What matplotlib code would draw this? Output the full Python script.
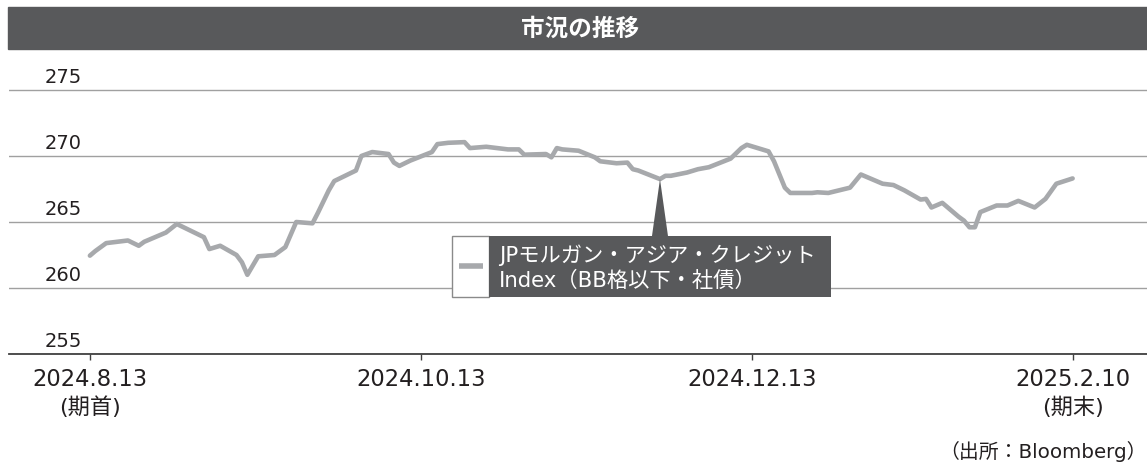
import matplotlib
matplotlib.use('Agg')
import matplotlib.pyplot as plt
import matplotlib.dates as mdates
from matplotlib.patches import Rectangle, Polygon
import numpy as np
import pandas as pd

plt.rcParams['font.family'] = ['Noto Sans CJK JP', 'DejaVu Sans']
MIX = ['DejaVu Sans', 'Noto Sans CJK JP']

# 読み取った値
dates = [
    '2024-08-13', '2024-08-14', '2024-08-16', '2024-08-20', '2024-08-22', '2024-08-23',
    '2024-08-27', '2024-08-29', '2024-09-03', '2024-09-04', '2024-09-06', '2024-09-09',
    '2024-09-10', '2024-09-11', '2024-09-13', '2024-09-16', '2024-09-18', '2024-09-20',
    '2024-09-23', '2024-09-24', '2024-09-26', '2024-09-27', '2024-10-01', '2024-10-02',
    '2024-10-04', '2024-10-07', '2024-10-08', '2024-10-09', '2024-10-11', '2024-10-15',
    '2024-10-16', '2024-10-18', '2024-10-21', '2024-10-22', '2024-10-25', '2024-10-29',
    '2024-10-31', '2024-11-01', '2024-11-05', '2024-11-06', '2024-11-07', '2024-11-08',
    '2024-11-11', '2024-11-14', '2024-11-15', '2024-11-18', '2024-11-20', '2024-11-21',
    '2024-11-22', '2024-11-26', '2024-11-27', '2024-11-28', '2024-12-01', '2024-12-03',
    '2024-12-05', '2024-12-09', '2024-12-11', '2024-12-12', '2024-12-16', '2024-12-17',
    '2024-12-19', '2024-12-20', '2024-12-24', '2024-12-25', '2024-12-27', '2024-12-29',
    '2024-12-31', '2025-01-02', '2025-01-04', '2025-01-06', '2025-01-08', '2025-01-10',
    '2025-01-13', '2025-01-14', '2025-01-15', '2025-01-17', '2025-01-20', '2025-01-21',
    '2025-01-22', '2025-01-23', '2025-01-24', '2025-01-27', '2025-01-29', '2025-01-31',
    '2025-02-03', '2025-02-05', '2025-02-07', '2025-02-10',
]
values = [
    262.45, 262.8, 263.4, 263.6, 263.2, 263.5,
    264.2, 264.85, 263.85, 262.95, 263.2, 262.5,
    261.95, 261.0, 262.4, 262.5, 263.1, 265.0,
    264.9, 265.7, 267.4, 268.1, 268.9, 270.0,
    270.3, 270.15, 269.5, 269.25, 269.65, 270.3,
    270.9, 271.0, 271.05, 270.6, 270.7, 270.5,
    270.5, 270.1, 270.15, 269.9, 270.6, 270.5,
    270.4, 269.9, 269.6, 269.45, 269.5, 269.0,
    268.9, 268.25, 268.5, 268.5, 268.75, 269.0,
    269.15, 269.8, 270.6, 270.85, 270.35, 269.6,
    267.6, 267.2, 267.2, 267.25, 267.2, 267.4,
    267.6, 268.6, 268.25, 267.9, 267.8, 267.4,
    266.7, 266.75, 266.1, 266.45, 265.4, 265.1,
    264.6, 264.6, 265.75, 266.25, 266.25, 266.6,
    266.1, 266.75, 267.9, 268.3,
]
tick_dates = ['2024-08-13', '2024-10-13', '2024-12-13', '2025-02-10']
tick_labels = ['2024.8.13', '2024.10.13', '2024.12.13', '2025.2.10']
tick_notes = ['(期首)', '', '', '(期末)']
y_ticks = [255, 260, 265, 270, 275]
pointer_date = '2024-11-26'
series_name = 'JPモルガン・アジア・クレジット\nIndex（BB格以下・社債）'

dark = '#58595b'
line_gray = '#a7a9ac'
text_col = '#231f20'

W, H = 1147, 464
fig = plt.figure(figsize=(W / 100, H / 100), dpi=100)

# タイトルバー
fig.patches.append(Rectangle((8 / W, 1 - 50 / H), 1 - 8 / W, 42 / H,
                             transform=fig.transFigure, color=dark, zorder=0))
fig.text(0.506, 1 - 29 / H, '市況の推移', color='white', fontsize=17,
         fontweight='bold', ha='center', va='center')

ax = fig.add_axes([9 / W, (H - 355) / H, 1 - 9 / W, 295 / H])
x = pd.to_datetime(dates)
ax.plot(x, values, color=line_gray, lw=3.3, solid_joinstyle='round',
        solid_capstyle='round', zorder=3)

start = pd.Timestamp('2024-08-13')
ax.set_xlim(start - pd.Timedelta(days=14.9), start + pd.Timedelta(days=194.7))
ax.set_ylim(255, 275 + 31 / 13.2)

for s in ['top', 'right', 'left']:
    ax.spines[s].set_visible(False)
ax.spines['bottom'].set_color('#404040')
ax.spines['bottom'].set_linewidth(1.3)

ax.set_yticks(y_ticks)
ax.yaxis.grid(True, color='#a0a0a0', lw=1.0)
ax.tick_params(axis='y', length=0, labelleft=False)
for v in y_ticks:
    ax.text(36 / 1138, v + 0.3, str(v), transform=ax.get_yaxis_transform(),
            fontsize=14, family=MIX, color=text_col, ha='left', va='bottom')

tk = pd.to_datetime(tick_dates)
ax.set_xticks(tk)
ax.tick_params(axis='x', length=4, width=1, color='#404040', labelbottom=False)
xt = ax.get_xaxis_transform()
for d, lab, note in zip(tk, tick_labels, tick_notes):
    ax.text(d, -25 / 295, lab, transform=xt, fontsize=16.3, family=MIX,
            color=text_col, ha='center', va='center')
    if note:
        ax.text(d, -52 / 295, note, transform=xt, fontsize=16, family=MIX,
                color=text_col, ha='center', va='center')

# 凡例ボックス
def ax_frac(px, py):
    return (px - 9) / 1138, (355 - py) / 295

x0, y0 = ax_frac(452, 298)
x1, y1 = ax_frac(489, 237)
x2, _ = ax_frac(831, 237)
ax.add_patch(Rectangle((x0, y0), x1 - x0, y1 - y0, transform=ax.transAxes,
                       facecolor='white', edgecolor='#8a8a8a', lw=1, zorder=4))
ax.add_patch(Rectangle((x1, y0), x2 - x1, y1 - y0, transform=ax.transAxes,
                       facecolor=dark, edgecolor='none', zorder=4))
lx0, ly = ax_frac(459, 267)
lx1, _ = ax_frac(483, 267)
ax.plot([lx0, lx1], [ly, ly], transform=ax.transAxes, color=line_gray, lw=4,
        solid_capstyle='butt', zorder=5)
tx, _ = ax_frac(499, 0)
ax.text(tx, (y0 + y1) / 2, series_name, transform=ax.transAxes, color='white',
        fontsize=15.3, family=MIX, ha='left', va='center', linespacing=1.3,
        zorder=5)

# 吹き出しの三角
pi = dates.index(pointer_date)
apex = (ax.transData + ax.transAxes.inverted()).transform(
    (mdates.date2num(x[pi]), values[pi]))
half = 8 / 1138
ax.add_patch(Polygon([(apex[0] - half, y1), (apex[0] + half, y1),
                      (apex[0], apex[1])], closed=True, transform=ax.transAxes,
                     facecolor=dark, edgecolor='none', zorder=4))

fig.text(1.0, 12 / H, '（出所：Bloomberg）', fontsize=14.3, family=MIX,
         color=text_col, ha='right', va='center')

fig.savefig('out.png', dpi=100)
